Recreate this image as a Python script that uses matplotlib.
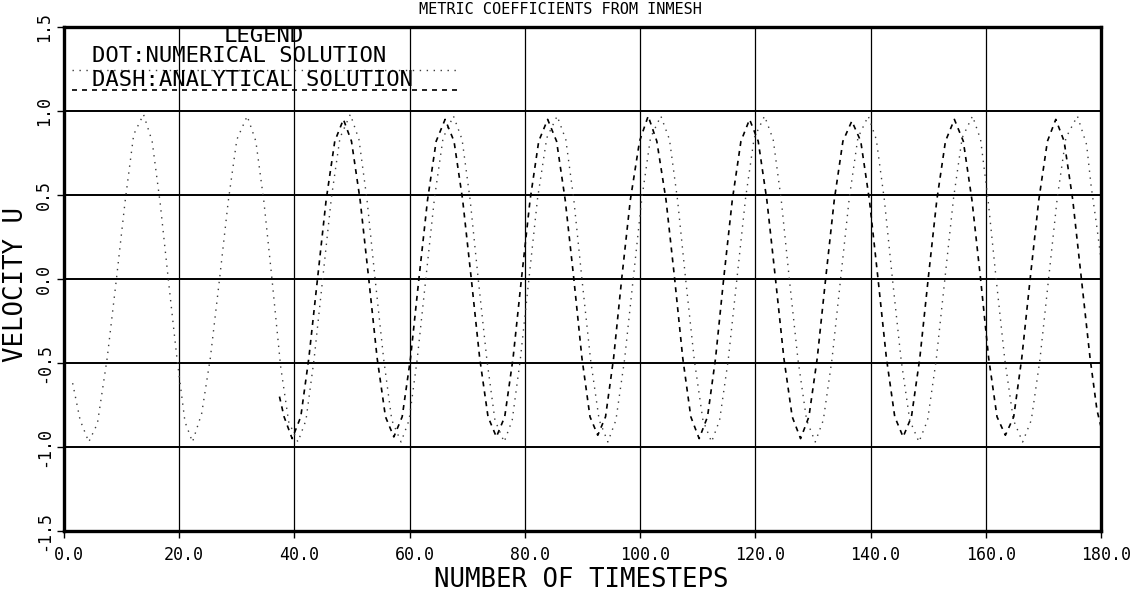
#!/usr/bin/env python3
"""Velocity U against timestep: numerical (dots) vs analytical (dashes) solution."""

import matplotlib
matplotlib.use("Agg")
import matplotlib.pyplot as plt
from matplotlib.transforms import ScaledTranslation

# numerical solution, one half-cycle per line
num_t = [1.5, 2.8, 4.3, 5.8, 7.5, 9.1,
         10.6, 12.1, 13.8, 15.3, 16.7, 18.1,
         19.6, 21.0, 22.3, 23.9, 25.4, 27.0,
         28.5, 30.0, 31.8, 33.3, 34.7, 36.1,
         37.6, 39.0, 40.6, 42.0, 43.4, 44.9,
         46.4, 47.9, 49.7, 51.2, 52.6, 54.0,
         55.5, 56.9, 58.5, 59.9, 61.3, 62.8,
         64.3, 65.8, 67.6, 69.1, 70.5, 71.9,
         73.4, 74.8, 76.4, 77.8, 79.2, 80.7,
         82.2, 83.8, 85.6, 87.1, 88.5, 89.9,
         91.4, 92.9, 94.4, 95.8, 97.3, 98.8,
         100.3, 101.8, 103.6, 105.1, 106.5, 107.9,
         109.4, 110.9, 112.4, 113.8, 115.3, 116.8,
         118.3, 119.8, 121.6, 123.1, 124.5, 125.9,
         127.4, 128.9, 130.4, 131.8, 133.3, 134.8,
         136.3, 137.8, 139.6, 141.0, 142.4, 143.8,
         145.3, 146.8, 148.4, 149.9, 151.4, 152.9,
         154.4, 155.9, 157.7, 159.1, 160.4, 161.8,
         163.3, 164.8, 166.4, 167.9, 169.4, 170.9,
         172.4, 173.9, 175.9, 177.5, 178.3, 179.2, 180.0]
num_u = [-0.62, -0.84, -0.97, -0.86, -0.47, 0.0,
         0.46, 0.86, 0.98, 0.82, 0.45, 0.0,
         -0.47, -0.85, -0.97, -0.80, -0.47, 0.0,
         0.46, 0.83, 0.97, 0.82, 0.46, 0.0,
         -0.52, -0.85, -0.97, -0.84, -0.48, 0.0,
         0.48, 0.84, 0.98, 0.83, 0.47, 0.0,
         -0.48, -0.84, -0.97, -0.84, -0.48, 0.0,
         0.48, 0.84, 0.97, 0.83, 0.47, 0.0,
         -0.48, -0.84, -0.97, -0.84, -0.48, 0.0,
         0.48, 0.84, 0.97, 0.83, 0.47, 0.0,
         -0.48, -0.84, -0.97, -0.84, -0.48, 0.0,
         0.48, 0.84, 0.97, 0.83, 0.47, 0.0,
         -0.48, -0.84, -0.97, -0.84, -0.48, 0.0,
         0.48, 0.84, 0.97, 0.83, 0.47, 0.0,
         -0.48, -0.84, -0.97, -0.84, -0.48, 0.0,
         0.48, 0.84, 0.97, 0.83, 0.47, 0.0,
         -0.48, -0.84, -0.97, -0.84, -0.48, 0.0,
         0.48, 0.84, 0.97, 0.83, 0.47, 0.0,
         -0.48, -0.84, -0.97, -0.84, -0.48, 0.0,
         0.48, 0.84, 0.97, 0.80, 0.55, 0.33, 0.12]

# analytical solution, only drawn from about step 37 on
ana_t = [37.4, 38.2, 39.6, 41.1, 42.5, 44.0,
         45.5, 47.0, 48.5, 49.9, 51.4, 52.9,
         54.35, 55.8, 57.25, 58.7, 60.15, 61.6,
         63.1, 64.6, 66.15, 67.7, 69.2, 70.7,
         72.15, 73.6, 75.05, 76.5, 77.95, 79.4,
         80.9, 82.4, 83.95, 85.5, 87.0, 88.5,
         89.9, 91.3, 92.65, 94.0, 95.4, 96.8,
         98.3, 99.9, 101.4, 102.9, 104.5, 106.0,
         107.4, 108.8, 110.25, 111.7, 113.1, 114.5,
         116.0, 117.5, 119.0, 120.5, 122.0, 123.5,
         124.95, 126.4, 127.85, 129.3, 130.75, 132.2,
         133.7, 135.2, 136.75, 138.3, 139.8, 141.3,
         142.75, 144.2, 145.65, 147.1, 148.55, 150.0,
         151.5, 153.0, 154.55, 156.1, 157.6, 159.1,
         160.5, 161.95, 163.4, 164.85, 166.25, 167.7,
         169.2, 170.7, 172.15, 173.6, 175.1, 176.6,
         178.1, 179.3, 180.0]
ana_u = [-0.70, -0.82, -0.95, -0.82, -0.47, 0.0,
         0.47, 0.82, 0.95, 0.82, 0.47, 0.0,
         -0.47, -0.82, -0.94, -0.82, -0.47, 0.0,
         0.47, 0.82, 0.95, 0.82, 0.47, 0.0,
         -0.47, -0.82, -0.94, -0.82, -0.47, 0.0,
         0.47, 0.82, 0.95, 0.82, 0.47, 0.0,
         -0.47, -0.82, -0.93, -0.82, -0.47, 0.0,
         0.47, 0.82, 0.97, 0.82, 0.47, 0.0,
         -0.47, -0.82, -0.95, -0.82, -0.47, 0.0,
         0.47, 0.82, 0.95, 0.82, 0.47, 0.0,
         -0.47, -0.82, -0.95, -0.82, -0.47, 0.0,
         0.47, 0.82, 0.94, 0.82, 0.47, 0.0,
         -0.47, -0.82, -0.94, -0.82, -0.47, 0.0,
         0.47, 0.82, 0.95, 0.82, 0.47, 0.0,
         -0.47, -0.82, -0.93, -0.82, -0.47, 0.0,
         0.47, 0.82, 0.95, 0.82, 0.47, 0.0,
         -0.47, -0.78, -0.88]

x_ticks = [0, 20, 40, 60, 80, 100, 120, 140, 160, 180]
x_tick_labels = ["0.0", "20.0", "40.0", "60.0", "80.0", "100.0",
                 "120.0", "140.0", "160.0", "180.0"]
y_ticks = [-1.5, -1.0, -0.5, 0.0, 0.5, 1.0, 1.5]
y_tick_labels = ["-1.5", "-1.0", "-0.5", "0.0", "0.5", "1.0", "1.5"]

plt.rcParams['font.family'] = ['DejaVu Sans Mono', 'DejaVu Sans']

W, H = 1143, 592
fig = plt.figure(figsize=(W / 100, H / 100), dpi=100)
# plot frame: x 64..1101 px, y 27..531 px
ax = fig.add_axes([64 / W, (H - 531) / H, 1037 / W, 504 / H])

ax.plot(num_t, num_u, color='#3c3c3c', lw=1.0, linestyle=(0, (1, 4)))
ax.plot(ana_t, ana_u, color='black', lw=1.2, linestyle=(0, (3, 3)))

ax.set_xlim(0, 180)
ax.set_ylim(-1.5, 1.5)
ax.set_xticks(x_ticks)
ax.set_xticklabels(x_tick_labels)
ax.set_yticks(y_ticks)
ax.set_yticklabels(y_tick_labels, rotation=90, va='center')

ax.grid(axis='y', color='black', lw=1.4)
ax.grid(axis='x', color='black', lw=0.9)
for sp in ax.spines.values():
    sp.set_linewidth(2.4)

ax.tick_params(axis='both', direction='out', length=5, width=1.0,
               labelsize=12, color='black')
ax.tick_params(axis='x', pad=6)
ax.tick_params(axis='y', pad=3)
# plotter labels sit a little right of their ticks
shift = ScaledTranslation(5 / 100, 0, fig.dpi_scale_trans)
for lab in ax.get_xticklabels():
    lab.set_transform(lab.get_transform() + shift)

ax.set_xlabel("NUMBER OF TIMESTEPS", fontsize=18.5)
ax.xaxis.set_label_coords(0.499, -0.072)
ax.set_ylabel("VELOCITY U", fontsize=18.5)
ax.yaxis.set_label_coords(-0.034, 0.49)

# hand-made legend block in the top-left corner
ax.text(0.193, 0.982, "LEGEND", transform=ax.transAxes, ha='center',
        va='center', fontsize=16)
ax.text(0.027, 0.943, "DOT:NUMERICAL SOLUTION", transform=ax.transAxes,
        ha='left', va='center', fontsize=16)
ax.plot([0.008, 0.379], [0.915, 0.915], transform=ax.transAxes,
        color='#3c3c3c', lw=1.0, linestyle=(0, (1, 4)))
ax.text(0.027, 0.895, "DASH:ANALYTICAL SOLUTION", transform=ax.transAxes,
        ha='left', va='center', fontsize=16)
ax.plot([0.008, 0.379], [0.875, 0.875], transform=ax.transAxes,
        color='black', lw=1.2, linestyle=(0, (3, 3)))

# title squeezed into the strip above the frame
fig.text(0.49, 1 - 2 / H, "METRIC COEFFICIENTS FROM INMESH", ha='center',
         va='top', fontsize=11)

fig.savefig("out.png", dpi=100)
